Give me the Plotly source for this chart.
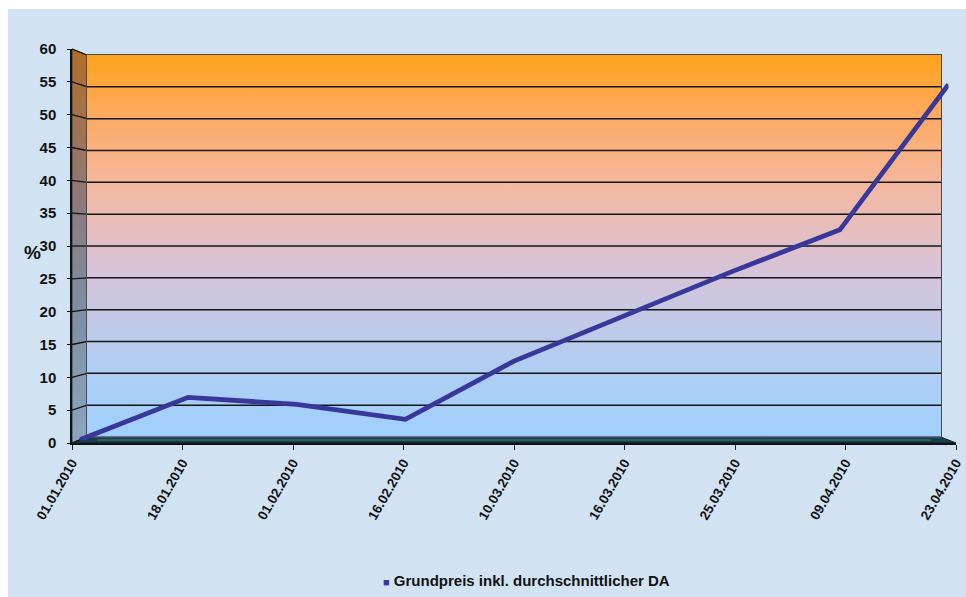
import plotly.graph_objects as go

# ---- data -------------------------------------------------------------
dates = ["01.01.2010", "18.01.2010", "01.02.2010", "16.02.2010", "10.03.2010",
         "16.03.2010", "25.03.2010", "09.04.2010", "23.04.2010"]
values = [0.0, 6.6, 5.5, 3.2, 12.2, 19.0, 26.0, 32.5, 55.0]
series_name = "Grundpreis inkl. durchschnittlicher DA"
y_ticks = list(range(0, 61, 5))
y_title = "%"

# ---- look -------------------------------------------------------------
W, H = 966, 597
Y_MAX = 60
N = len(dates) - 1
FONT = "Liberation Sans, Arial, sans-serif"
BG = "#d1e2f3"
LINE_COLOR = "#38389a"

# pseudo-3D planes as pixel boxes: (left, right, bottom, top)
FRONT = (72, 956, 443, 49)
BACK = (87, 941, 437, 55)
MID = tuple((f + b) / 2 for f, b in zip(FRONT, BACK))


def dom_x(box):
    return [box[0] / W, box[1] / W]


def dom_y(box):
    return [1 - box[2] / H, 1 - box[3] / H]


def py(box, v):
    return box[2] + (box[3] - box[2]) * v / Y_MAX


fig = go.Figure()

# left side wall
fig.add_trace(go.Scatter(
    x=[FRONT[0], BACK[0], BACK[0], FRONT[0], FRONT[0]],
    y=[FRONT[3], BACK[3], BACK[2], FRONT[2], FRONT[3]],
    mode="lines", fill="toself", line=dict(color="#3a3a3a", width=1),
    fillgradient=dict(type="vertical", start=FRONT[2], stop=FRONT[3],
                      colorscale=[[0, "#8aa6bf"], [0.35, "#7e8ea3"],
                                  [0.6, "#8c7a7e"], [1, "#b26c27"]]),
    hoverinfo="skip", showlegend=False))

# back wall
fig.add_trace(go.Scatter(
    x=[BACK[0], BACK[1], BACK[1], BACK[0], BACK[0]],
    y=[BACK[2], BACK[2], BACK[3], BACK[3], BACK[2]],
    mode="lines", fill="toself", line=dict(width=0),
    fillgradient=dict(type="vertical", start=BACK[2], stop=BACK[3],
                      colorscale=[[0, "#9fd0fd"], [0.2, "#b2cdf2"],
                                  [0.45, "#d9c3d6"], [0.65, "#f3b8a2"],
                                  [0.85, "#fda95e"], [1, "#ffa31c"]]),
    hoverinfo="skip", showlegend=False))

# floor
fig.add_trace(go.Scatter(
    x=[FRONT[0], FRONT[1], BACK[1], BACK[0], FRONT[0]],
    y=[FRONT[2], FRONT[2], BACK[2], BACK[2], FRONT[2]],
    mode="lines", fill="toself", fillcolor="#173e4b",
    line=dict(color="#0c2028", width=1),
    hoverinfo="skip", showlegend=False))
fig.add_trace(go.Scatter(
    x=[BACK[0] + 10, BACK[1] - 10],
    y=[(FRONT[2] + BACK[2]) / 2] * 2,
    mode="lines", line=dict(color="rgba(150,190,195,0.45)", width=1.2),
    hoverinfo="skip", showlegend=False))

# slanted connectors from the front axis ticks to the back wall
cx, cy = [], []
for v in y_ticks:
    cx += [FRONT[0], BACK[0], None]
    cy += [py(FRONT, v), py(BACK, v), None]
fig.add_trace(go.Scatter(x=cx, y=cy, mode="lines",
                         line=dict(color="#151515", width=1.3),
                         hoverinfo="skip", showlegend=False))

# gridlines on the back wall
gx, gy = [], []
for v in y_ticks[1:-1]:
    gx += [0, N, None]
    gy += [v, v, None]
fig.add_trace(go.Scatter(x=gx, y=gy, mode="lines", xaxis="x2", yaxis="y2",
                         line=dict(color="#151515", width=1.5),
                         hoverinfo="skip", showlegend=False))

# data line (drawn in the middle depth plane)
fig.add_trace(go.Scatter(
    x=list(range(len(dates))), y=values, name=series_name,
    mode="lines", line=dict(color=LINE_COLOR, width=4.8),
    xaxis="x3", yaxis="y3", showlegend=False, cliponaxis=False))

# front axes carrier
fig.add_trace(go.Scatter(x=[], y=[], xaxis="x4", yaxis="y4",
                         showlegend=False, hoverinfo="skip"))

tickfont = dict(family=FONT, size=15, color="#111111", weight="bold")

fig.update_layout(
    template="none",
    width=W, height=H,
    margin=dict(l=0, r=0, t=0, b=0, pad=0, autoexpand=False),
    paper_bgcolor="white",
    plot_bgcolor="rgba(0,0,0,0)",
    showlegend=False,
    xaxis=dict(domain=[0, 1], range=[0, W], visible=False, automargin=False),
    yaxis=dict(domain=[0, 1], range=[H, 0], visible=False, automargin=False),
    xaxis2=dict(domain=dom_x(BACK), range=[0, N], anchor="y2",
                automargin=False,
                showgrid=False, zeroline=False, showticklabels=False,
                ticks="",
                showline=True, mirror=True, linecolor="#4a4a4a", linewidth=1),
    yaxis2=dict(domain=dom_y(BACK), range=[0, Y_MAX], anchor="x2",
                automargin=False, ticks="", showgrid=False,
                zeroline=False, showticklabels=False,
                showline=True, mirror=True, linecolor="#4a4a4a", linewidth=1),
    xaxis3=dict(domain=dom_x(MID), range=[0, N], anchor="y3", visible=False,
                automargin=False),
    yaxis3=dict(domain=dom_y(MID), range=[0, Y_MAX], anchor="x3",
                visible=False, automargin=False),
    xaxis4=dict(domain=dom_x(FRONT), range=[0, N], anchor="y4",
                automargin=False, ticklabeloverflow="allow",
                tickvals=list(range(len(dates))), ticktext=dates,
                tickangle=-60, ticks="outside", ticklen=5, tickcolor="#222222",
                showgrid=False, zeroline=False, showline=True,
                linecolor="#111111", linewidth=1.5,
                tickfont=dict(family=FONT, size=13.5, color="#111111",
                              weight="bold")),
    yaxis4=dict(domain=dom_y(FRONT), range=[0, Y_MAX], anchor="x4",
                automargin=False,
                tickvals=y_ticks, ticks="outside", ticklen=3,
                tickcolor="#111111", showgrid=False, zeroline=False,
                showline=True, linecolor="#111111", linewidth=1.5,
                ticklabelstandoff=8, tickfont=tickfont),
    shapes=[dict(type="rect", xref="x", yref="y", x0=8, x1=W, y0=9, y1=H,
                 fillcolor=BG, line=dict(width=0), layer="below")],
    annotations=[
        dict(xref="x", yref="y", x=32, y=252, text=y_title, showarrow=False,
             font=dict(family=FONT, size=19, color="#111111", weight="bold")),
        dict(xref="x", yref="y", x=526, y=580, showarrow=False,
             text=(f'<span style="color:{LINE_COLOR};font-size:11px">■</span> '
                   f'{series_name}'),
             font=dict(family=FONT, size=15, color="#111111", weight="bold")),
    ],
)

fig.write_html("out.html")
